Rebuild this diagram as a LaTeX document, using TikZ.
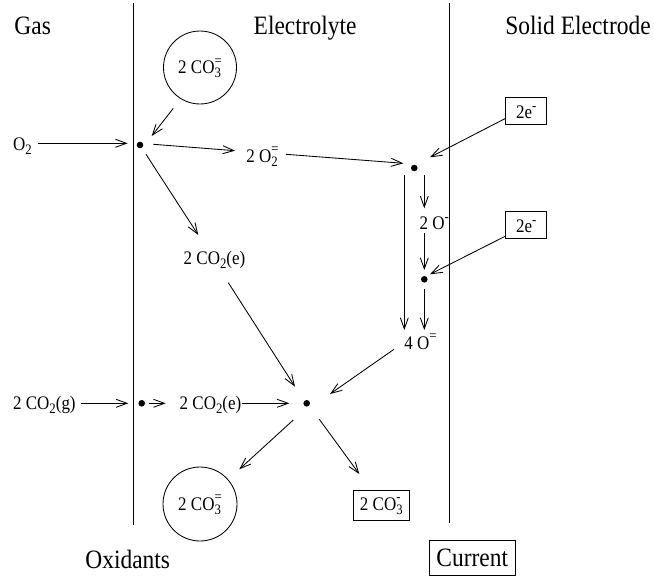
\documentclass[tikz,border=0pt]{standalone}
\usepackage{fontspec}
\setmainfont{Liberation Serif}[FakeStretch=0.885]
\usepackage{graphicx}
\usetikzlibrary{arrows.meta,calc}
\newcommand\lo[1]{\raisebox{-0.22em}{\scalebox{0.75}{#1}}}
\newcommand\hi[1]{\raisebox{0.42em}{\scalebox{0.75}{#1}}}
\newcommand\lohi[2]{\setbox0=\hbox{\lo{#1}}\setbox2=\hbox{\hi{#2}}\ifdim\wd0>\wd2 \rlap{\box2}\box0 \else\rlap{\box0}\box2\fi}
\tikzset{
  arr/.style={-{Straight Barb[length=11pt,width=8pt]}},
  sm/.style={font=\fontsize{19.2}{22}\selectfont, inner sep=0pt, anchor=base west},
  big/.style={font=\fontsize{26.5}{30}\selectfont, inner sep=0pt, anchor=base west},
  dot/.style={circle, fill, inner sep=0pt, minimum size=6.6pt},
  ring/.style={circle, draw, inner sep=0pt, font=\fontsize{19.2}{22}\selectfont, text depth=0pt},
  tagbox/.style={draw, inner sep=0pt, font=\fontsize{19.2}{22}\selectfont}
}
\begin{document}
\begin{tikzpicture}[x=1pt,y=-1pt,line width=0.85pt]
\useasboundingbox (0,0) rectangle (654,578);
% phase boundaries
\coordinate (Lt) at (133,3); \coordinate (Lb) at (133,525);
\coordinate (Rt) at (449,3); \coordinate (Rb) at (449,523);
\draw (Lt) -- (Lb);
\draw (Rt) -- (Rb);
% headings
\node[big] (gas) at (14,35) {Gas};
\node[big] (elec) at (253.3,35) {Electrolyte};
\node[big] (solid) at (505,35) {Solid Electrode};
\node[big] (oxid) at (85,568) {Oxidants};
\node[draw, inner sep=0pt, font=\fontsize{26.5}{30}\selectfont, minimum width=85.7pt, text height=26pt, text depth=9pt] (cur) at (472.2,557.5) {Current};
% circles and boxes
\node[ring, minimum size=73pt, text height=11.6pt] (ct) at (200,67.5) {2 CO\lohi{3}{=}};
\node[ring, minimum size=74pt, text height=12pt] (cb) at (200,504) {2 CO\lohi{3}{=}};
\node[tagbox, minimum width=56pt, text height=20pt, text depth=10pt] (b3) at (381.3,505) {2 CO\lohi{3}{-}};
\node[tagbox, minimum width=41pt, text height=20.8pt, text depth=6.5pt] (b1) at (526.2,111.15) {2e\hi{-}};
\node[tagbox, minimum width=41pt, text height=20.8pt, text depth=6.5pt] (b2) at (526.2,225.15) {2e\hi{-}};
% dots
\node[dot] (d1) at (140,145) {};
\node[dot] (d2) at (414.3,168) {};
\node[dot] (d3) at (424.3,279.3) {};
\node[dot] (dc) at (306.7,403.3) {};
\node[dot] (d4) at (141.7,403.3) {};
% species labels
\node[sm] (o2) at (12.7,150) {O\lo{2}};
\node[sm] (o2m) at (246,162) {2 O\lohi{2}{=}};
\node[sm] (cmid) at (183.3,264) {2 CO\lo{2}(e)};
\node[sm] (om) at (419.3,229.3) {2 O\hi{-}};
\node[sm] (fourO) at (404,349) {4 O\hi{=}};
\node[sm] (cg) at (12.7,409) {2 CO\lo{2}(g)};
\node[sm] (ce) at (179.3,409) {2 CO\lo{2}(e)};
% connectors
\draw[arr] ($(o2.base west)+(25.6,-6.7)$) -- ($(d1)+(-12.3,-1.7)$);
\draw[arr] ($(ct)+(-26.7,40.8)$) -- ($(d1)+(11.7,-9)$);
\draw[arr] ($(d1)+(13.3,-0.7)$) -- ($(o2m.base west)+(-11,-11.3)$);
\draw[arr] ($(o2m.base west)+(40,-7.7)$) -- ($(d2)+(-11,-4.7)$);
\draw[arr] ($(b1)+(-20.5,7.15)$) -- ($(d2)+(15.7,-10.7)$);
\draw[arr] ($(d2)+(10,7)$) -- ($(om.base west)+(5,-21)$);
\draw[arr] ($(om.base west)+(5,4)$) -- ($(d3)+(0,-9.3)$);
\draw[arr] ($(b2)+(-20.5,10.85)$) -- ($(d3)+(5.7,-5)$);
\draw[arr] ($(d3)+(0,10)$) -- ($(fourO.base west)+(20.3,-19)$);
\draw[arr] ($(d2)+(-10,7)$) -- ($(fourO.base west)+(0.3,-19)$);
\draw[arr] ($(fourO.base west)+(-10,0.3)$) -- ($(dc)+(23.3,-9.3)$);
\draw[arr] ($(d1)+(6,9.3)$) -- ($(cmid.base west)+(15,-29)$);
\draw[arr] ($(cmid.base west)+(45,18.7)$) -- ($(dc)+(-11.7,-16.6)$);
\draw[arr] ($(cg.base west)+(68.3,-5.7)$) -- ($(d4)+(-13.4,0)$);
\draw[arr] ($(d4)+(7.3,0)$) -- ($(ce.base west)+(-13.6,-5.7)$);
\draw[arr] ($(ce.base west)+(62.4,-5.7)$) -- ($(dc)+(-17.4,0)$);
\draw[arr] ($(dc)+(-13.4,16.7)$) -- ($(cb)+(39.3,-34.7)$);
\draw[arr] ($(dc)+(12.6,16)$) -- ($(b3)+(-22,-31)$);
\end{tikzpicture}
\end{document}
